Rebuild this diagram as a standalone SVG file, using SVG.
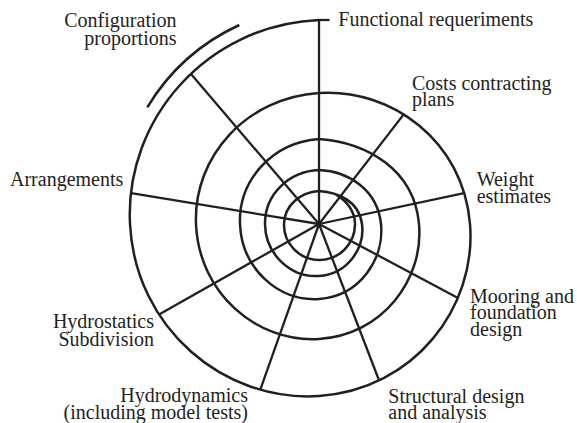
<svg xmlns="http://www.w3.org/2000/svg" width="577" height="423" viewBox="0 0 577 423">
<style>
.bg{fill:#ffffff}
.sp{fill:none;stroke:#231f20;stroke-width:2.5;stroke-linecap:butt}
.ln{fill:none;stroke:#231f20;stroke-width:2.3;stroke-linecap:butt}
.t{font-family:"Liberation Serif","Times New Roman",serif;font-size:20px;fill:#231f20}
.e{text-anchor:end}
</style>
<rect class="bg" x="0" y="0" width="577" height="423"/>
<g id="spiral">
<path class="sp" d="M 319 20 C 206.33 25, 124.67 119.62, 130 224 C 135.33 328.38, 224 402.33, 319 396 C 414 389.67, 476.83 307.4, 470 224 C 463.17 140.6, 391.35 88.33, 319 93 C 246.65 97.67, 193.33 156.07, 196 224 C 198.67 291.93, 255.49 342.83, 319 339 C 382.51 335.17, 424 279.23, 419 224 C 414 168.77, 365.95 142.5, 319 139 C 272.05 142.5, 238.33 180.37, 240 224 C 241.67 267.63, 277.58 301.83, 319 299 C 360.42 296.17, 384.5 258.24, 381 224 C 377.5 189.76, 348.82 171.33, 319 170 C 289.18 171.33, 264.67 194.18, 265 224 C 265.33 253.82, 290.28 277.83, 319 276 C 347.72 274.17, 365.17 247.75, 362 224 C 358.83 200.25, 337.23 192.33, 319 191 C 300.77 192.33, 284.5 204.67, 284 224 C 283.5 243.33, 299.12 259.83, 319 260 C 338.88 260.17, 355.17 243.88, 355 224 C 355 211.14, 346.52 200.63, 336 194.56"/>
<path class="sp" d="M 147.3 107.3 A 210 210 0 0 1 239.3 25"/>
</g>
<g id="connectors">
<line class="ln" x1="319" y1="224" x2="319" y2="20"/>
<line class="ln" x1="318" y1="20" x2="329.5" y2="20"/>
<line class="ln" x1="319" y1="224" x2="403.7" y2="114.4"/>
<line class="ln" x1="319" y1="224" x2="464" y2="193.2"/>
<line class="ln" x1="319" y1="224" x2="458" y2="297.9"/>
<line class="ln" x1="319" y1="224" x2="379.1" y2="380.5"/>
<line class="ln" x1="319" y1="224" x2="260.3" y2="389.7"/>
<line class="ln" x1="319" y1="224" x2="158.6" y2="314.8"/>
<line class="ln" x1="319" y1="224" x2="131.2" y2="193.1"/>
<line class="ln" x1="319" y1="224" x2="191" y2="74"/>
</g>
<g id="functional"><text class="t" x="338.3" y="26">Functional requeriments</text></g>
<g id="configuration"><text class="t e" x="176.5" y="26.7">Configuration</text><text class="t e" x="176.5" y="45">proportions</text></g>
<g id="costs"><text class="t" x="412" y="90">Costs contracting</text><text class="t" x="412" y="106">plans</text></g>
<g id="weight"><text class="t" x="476.7" y="186">Weight</text><text class="t" x="476.7" y="203">estimates</text></g>
<g id="arrangements"><text class="t" x="10" y="186">Arrangements</text></g>
<g id="mooring"><text class="t" x="470" y="302.7">Mooring and</text><text class="t" x="470" y="319.3">foundation</text><text class="t" x="470" y="335.5">design</text></g>
<g id="hydrostatics"><text class="t e" x="154" y="328.3">Hydrostatics</text><text class="t e" x="154" y="346">Subdivision</text></g>
<g id="hydrodynamics"><text class="t e" x="248" y="401.7">Hydrodynamics</text><text class="t e" x="248" y="419">(including model tests)</text></g>
<g id="structural"><text class="t" x="388.3" y="403.3">Structural design</text><text class="t" x="388.3" y="419.3">and analysis</text></g>
</svg>
